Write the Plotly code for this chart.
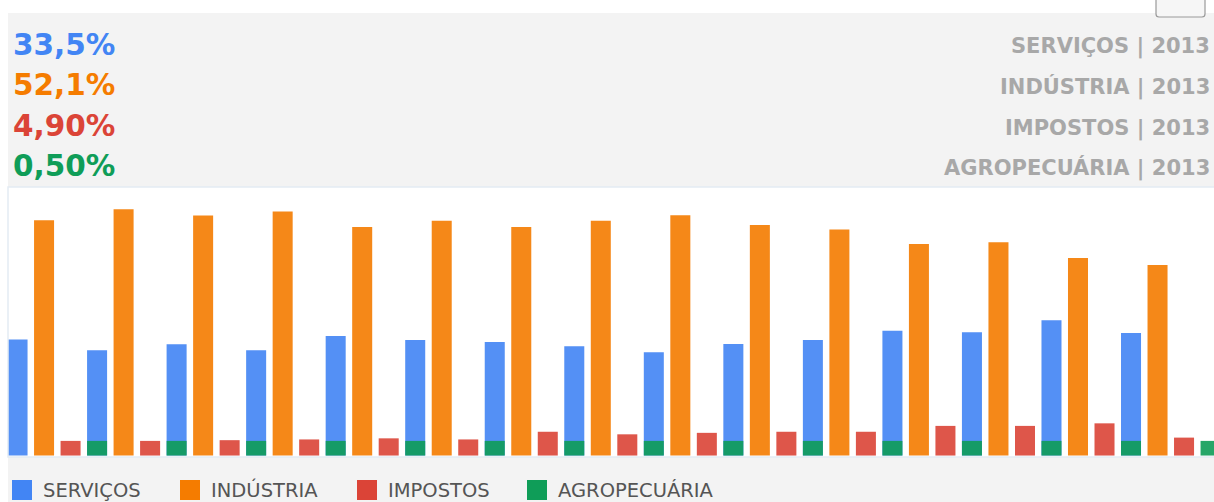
import plotly.graph_objects as go

# Participação no PIB por setor, 1999-2013
anos = list(range(1999, 2014))
servicos = [31.7, 28.8, 30.4, 28.8, 32.7, 31.6, 31.0, 29.9, 28.2, 30.5, 31.6, 34.1, 33.7, 37.0, 33.5]
industria = [64.3, 67.3, 65.6, 66.7, 62.5, 64.2, 62.5, 64.2, 65.7, 63.0, 61.8, 57.8, 58.3, 54.0, 52.1]
impostos = [4.0, 4.0, 4.2, 4.4, 4.7, 4.4, 6.5, 5.8, 6.2, 6.5, 6.5, 8.1, 8.1, 8.8, 4.9]
agropecuaria = [0.6, 0.6, 0.5, 0.5, 0.5, 0.5, 0.5, 0.5, 0.5, 0.5, 0.5, 0.5, 0.5, 0.5, 0.5]

setores = ["SERVIÇOS", "INDÚSTRIA", "IMPOSTOS", "AGROPECUÁRIA"]
series = [servicos, industria, impostos, agropecuaria]
cores = ["#4285f4", "#f57c00", "#db4437", "#0f9d58"]

MIN_BAR = 4.0      # shortest bar drawn, in percentage points
SLOTS = 3          # slots per year; the 4th bar shares the next year's first slot

W, H = 1214, 502
L, R, T, B = 8, 0, 187, 45
PW, PH = W - L - R, H - T - B


def px(xp):
    return (xp - L) / PW


def py(yp):
    return (H - B - yp) / PH


fig = go.Figure()
for k, (nome, vals, cor) in enumerate(zip(setores, series, cores)):
    fig.add_trace(go.Bar(
        x=[SLOTS * i + k for i in range(len(anos))],
        y=[max(v, MIN_BAR) for v in vals],
        customdata=[[a, v] for a, v in zip(anos, vals)],
        hovertemplate=nome + " | %{customdata[0]}: %{customdata[1]}%<extra></extra>",
        name=nome,
        width=0.755,
        marker=dict(color=cor, line=dict(width=0)),
        opacity=0.9,
    ))


def fmt(v):
    s = f"{v:.1f}" if v >= 10 else f"{v:.2f}"
    return s.replace(".", ",") + "%"


ano_final = anos[-1]
anotacoes = []
linhas_y = [45, 85, 126, 166]
linhas_dir = [47, 87, 128, 168]
for nome, vals, cor, yl, yr in zip(setores, series, cores, linhas_y, linhas_dir):
    anotacoes.append(dict(
        xref="paper", yref="paper", x=px(11), y=py(yl), xanchor="left", yanchor="middle",
        text=f"<b>{fmt(vals[-1])}</b>", showarrow=False,
        font=dict(family="DejaVu Sans", size=29.5, color=cor)))
    anotacoes.append(dict(
        xref="paper", yref="paper", x=px(1212), y=py(yr), xanchor="right", yanchor="middle",
        text=f"<b>{nome} | {ano_final}</b>", showarrow=False,
        font=dict(family="DejaVu Sans", size=21, color="#a8a8a8")))

# legend drawn as squares + labels along the bottom band
leg_x = [12, 180, 357, 527]
formas = [
    # white margins around the grey panel
    dict(type="rect", xref="paper", yref="paper", x0=px(0), x1=px(W), y0=py(13), y1=py(-5),
         fillcolor="white", line=dict(width=0), layer="below"),
    dict(type="rect", xref="paper", yref="paper", x0=px(-5), x1=px(L), y0=py(H + 5), y1=py(-5),
         fillcolor="white", line=dict(width=0), layer="below"),
    # plot frame
    dict(type="rect", xref="paper", yref="paper", x0=0, x1=1.01, y0=0, y1=1,
         fillcolor="rgba(0,0,0,0)", line=dict(color="#e4ebf3", width=1.5), layer="above"),
    # small button, top right
    dict(type="path", xref="paper", yref="paper",
         path=(f"M {px(1156)} {py(-3)} L {px(1156)} {py(14)} Q {px(1156)} {py(17)} {px(1159)} {py(17)} "
               f"L {px(1202)} {py(17)} Q {px(1205)} {py(17)} {px(1205)} {py(14)} L {px(1205)} {py(-3)}"),
         fillcolor="#f6f6f6", line=dict(color="#9a9a9a", width=1.2)),
]
for nome, cor, xl in zip(setores, cores, leg_x):
    formas.append(dict(type="rect", xref="paper", yref="paper",
                       x0=px(xl), x1=px(xl + 20), y0=py(500), y1=py(480),
                       fillcolor=cor, line=dict(width=0)))
    anotacoes.append(dict(
        xref="paper", yref="paper", x=px(xl + 29), y=py(490), xanchor="left", yanchor="middle",
        text=nome, showarrow=False,
        font=dict(family="DejaVu Sans", size=19.5, color="#555555")))

fig.update_layout(
    width=W, height=H,
    margin=dict(l=L, r=R, t=T, b=B, pad=0),
    paper_bgcolor="#f3f3f3",
    plot_bgcolor="white",
    barmode="overlay",
    showlegend=False,
    xaxis=dict(range=[-0.36, 45.13], showticklabels=False, showgrid=False,
               zeroline=False, ticks="", fixedrange=True),
    yaxis=dict(range=[-0.4, 73.4], showticklabels=False, showgrid=False,
               zeroline=False, ticks="", fixedrange=True),
    annotations=anotacoes,
    shapes=formas,
)

fig.write_html("out.html", config={"displayModeBar": False})
